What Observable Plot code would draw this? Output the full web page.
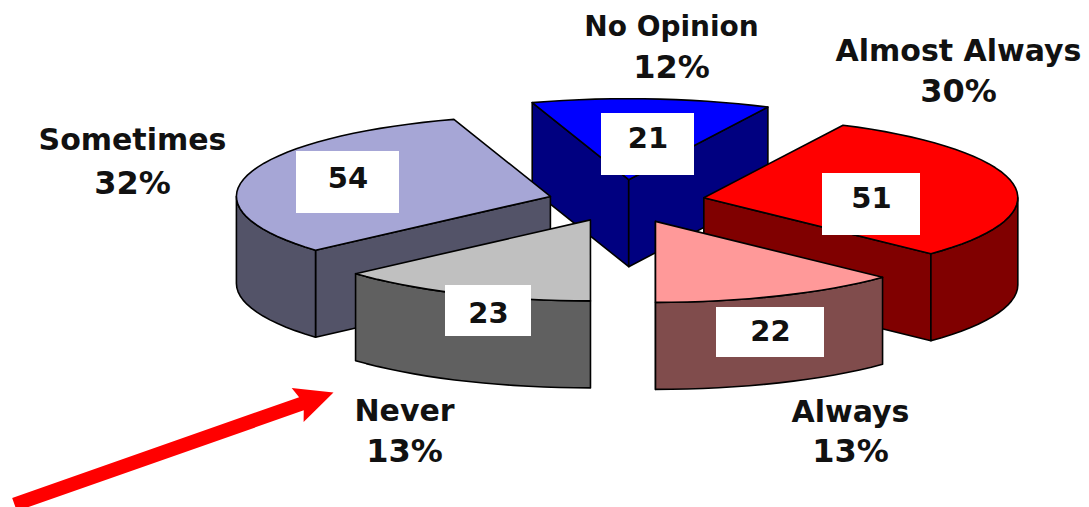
<!DOCTYPE html>
<html>
<head>
<meta charset="utf-8">
<style>
  html, body { margin: 0; padding: 0; background: #fff; }
  svg { display: block; }
</style>
<script src="https://cdn.jsdelivr.net/npm/d3@7"></script>
<script src="https://cdn.jsdelivr.net/npm/@observablehq/plot@0.6"></script>
</head>
<body>
<script>
// Survey answers, clockwise from the top of the pie
const categories = ["No Opinion", "Almost Always", "Always", "Never", "Sometimes"];
const counts = [21, 51, 22, 23, 54];
const percents = [12, 30, 13, 13, 32];

// Appearance of each wedge
const topColors = ["#0000ff", "#ff0000", "#ff9999", "#c0c0c0", "#a6a6d6"];
const wallColors = ["#000080", "#800000", "#804c4c", "#606060", "#535368"];
const explode = [0.27, 0.263, 0.267, 0.249, 0.238];
const paintOrder = [0, 1, 4, 3, 2];

// Tilted pie geometry, in the pixel units of the x and y scales
const width = 1089, height = 507;
const pie3d = {cx: 622, cy: 201, rx: 314, ry: 81, depth: 87, startDeg: 342.1};
const rad = Math.PI / 180;

// Positions of the count boxes and the category captions
const boxes = [
  {x1: 601, x2: 694, y1: 113, y2: 175, textY: 138},
  {x1: 822, x2: 920, y1: 173, y2: 235, textY: 198},
  {x1: 716, x2: 824, y1: 307, y2: 357, textY: 331},
  {x1: 445, x2: 531, y1: 285, y2: 336, textY: 313},
  {x1: 296, x2: 399, y1: 151, y2: 213, textY: 178}
];
const captions = [
  {x: 671, nameY: 27, pctY: 67, size: 28},
  {x: 958, nameY: 51, pctY: 91, size: 30},
  {x: 850, nameY: 412, pctY: 451, size: 30},
  {x: 404, nameY: 411, pctY: 451, size: 30},
  {x: 132, nameY: 140, pctY: 183, size: 30}
];

const arcs = d3.pie().sort(null)
  .startAngle(pie3d.startDeg * rad)
  .endAngle(pie3d.startDeg * rad + 2 * Math.PI)(counts)
  .map((d) => {
    // Keep each wedge's start inside the first turn
    const shift = d.startAngle >= 2 * Math.PI ? 2 * Math.PI : 0;
    return {startAngle: d.startAngle - shift, endAngle: d.endAngle - shift};
  });

const onRim = (apex, a) => ({
  x: apex.x + pie3d.rx * Math.sin(a),
  y: apex.y - pie3d.ry * Math.cos(a)
});
const below = (p) => ({x: p.x, y: p.y + pie3d.depth});

function face(points, fill) {
  return Plot.line(points, {
    x: "x", y: "y", curve: "linear-closed",
    fill, stroke: "#000", strokeWidth: 1.6, strokeLinejoin: "round"
  });
}

function wedgeMarks(i) {
  const {startAngle: a0, endAngle: a1} = arcs[i];
  const mid = (a0 + a1) / 2;
  const apex = {
    x: pie3d.cx + explode[i] * pie3d.rx * Math.sin(mid),
    y: pie3d.cy - explode[i] * pie3d.ry * Math.cos(mid)
  };
  const marks = [];
  const sample = (from, to) => {
    const n = Math.max(2, Math.ceil((to - from) / rad / 3));
    return d3.range(n + 1).map((k) => onRim(apex, from + (to - from) * k / n));
  };
  const radialWall = (a) => {
    const p = onRim(apex, a);
    return face([apex, p, below(p), below(apex)], wallColors[i]);
  };
  const deg = (a) => ((a / rad) % 360 + 360) % 360;

  // Cut faces are drawn only when they turn towards the viewer
  if (deg(a0) > 180) marks.push(radialWall(a0));
  if (deg(a1) > 0 && deg(a1) < 180) marks.push(radialWall(a1));

  // Curved outer wall: the part of the rim on the near side
  const from = Math.max(a0, 90 * rad), to = Math.min(a1, 270 * rad);
  if (to > from) {
    const rim = sample(from, to);
    marks.push(face([...rim, ...rim.map((p) => below(p)).reverse()], wallColors[i]));
  }

  // Top face
  marks.push(face([apex, ...sample(a0, a1)], topColors[i]));
  return marks;
}

// Pointer under the chart, aimed at the "Never" wedge
const pointer = {from: {x: 14, y: 504}, to: {x: 333, y: 392}, shaft: 14, headLength: 34, headWidth: 36};
function pointerOutline({from, to, shaft, headLength, headWidth}) {
  const len = Math.hypot(to.x - from.x, to.y - from.y);
  const ux = (to.x - from.x) / len, uy = (to.y - from.y) / len;
  const at = (along, across) => ({
    x: from.x + ux * along - uy * across,
    y: from.y + uy * along + ux * across
  });
  const neck = len - headLength;
  return [
    at(0, -shaft / 2), at(neck, -shaft / 2), at(neck - 4, -headWidth / 2), at(len, 0),
    at(neck - 4, headWidth / 2), at(neck, shaft / 2), at(0, shaft / 2)
  ];
}

const font = {fontFamily: "DejaVu Sans", fontWeight: "bold", fill: "#111"};

const plot = Plot.plot({
  width, height, margin: 0,
  x: {domain: [0, width], range: [0, width], axis: null},
  y: {domain: [0, height], range: [0, height], axis: null},
  marks: [
    ...paintOrder.flatMap(wedgeMarks),
    Plot.rect(boxes, {x1: "x1", x2: "x2", y1: "y1", y2: "y2", fill: "#fff"}),
    Plot.text(counts, {
      x: (d, i) => (boxes[i].x1 + boxes[i].x2) / 2,
      y: (d, i) => boxes[i].textY,
      text: (d) => String(d), fontSize: 29, ...font
    }),
    ...categories.map((name, i) => Plot.text([name], {
      x: () => captions[i].x, y: () => captions[i].nameY,
      text: (d) => d, fontSize: captions[i].size, ...font
    })),
    Plot.text(percents, {
      x: (d, i) => captions[i].x,
      y: (d, i) => captions[i].pctY,
      text: (d) => `${d}%`, fontSize: 32, ...font
    }),
    Plot.line(pointerOutline(pointer), {x: "x", y: "y", curve: "linear-closed", fill: "#ff0000", stroke: "none"})
  ]
});
document.body.appendChild(plot);
</script>
</body>
</html>
